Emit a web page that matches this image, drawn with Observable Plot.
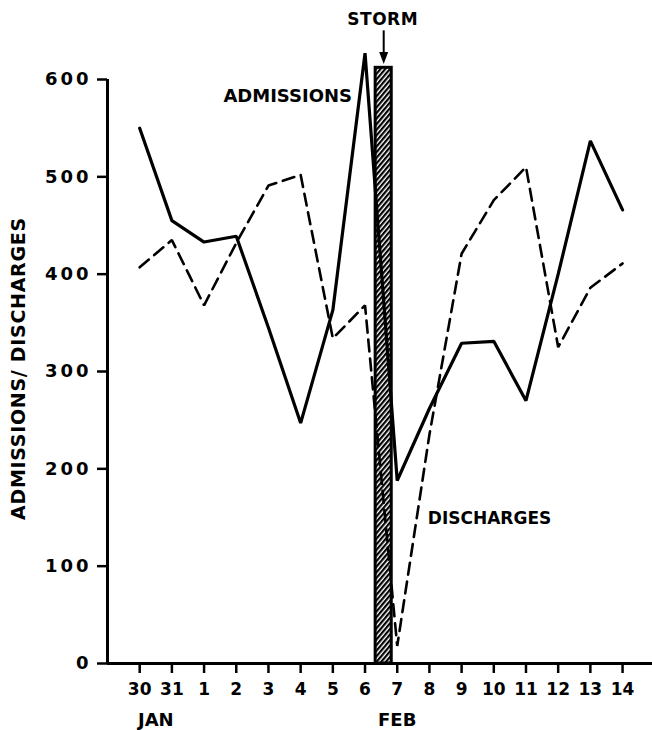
<!DOCTYPE html>
<html><head><meta charset="utf-8">
<script src="https://cdn.jsdelivr.net/npm/d3@7"></script>
<script src="https://cdn.jsdelivr.net/npm/@observablehq/plot@0.6"></script>
<style>
html,body{margin:0;padding:0;background:#fff;}
#chart svg{display:block;}
</style>
</head><body><div id="chart"></div>
<script>
// Days (Jan 30 – Feb 14)
const days = ["30","31","1","2","3","4","5","6","7","8","9","10","11","12","13","14"];
const admissions = [550,455,433,439,345,247,363,627,188,262,329,331,270,400,537,466];
const discharges = [407,435,368,432,491,502,334,368,18,235,421,476,510,325,386,411];
const yTicks = [0,100,200,300,400,500,600];
const seriesNames = ["ADMISSIONS","DISCHARGES"];
const yLabel = "ADMISSIONS/ DISCHARGES";
const monthNames = ["JAN","FEB"];
const monthSpan = [["30","31"],["7","7"]];
const stormLabel = "STORM";
const stormAfter = "6";
const stormHeight = 612;

const xDomain = [-1, 15.93];
const idx = d => days.indexOf(d);
const adm = days.map((d,i)=>({i, v: admissions[i]}));
const dis = days.map((d,i)=>({i, v: discharges[i]}));
const s0 = idx(stormAfter);
const stormRect = [{x1: s0 + 0.33, x2: s0 + 0.83, y1: 0, y2: stormHeight}];
const months = monthNames.map((m,k)=>({m, x: (idx(monthSpan[k][0]) + idx(monthSpan[k][1]))/2}));
const yAxisLine = [{x: xDomain[0], y1: yTicks[0], y2: yTicks[yTicks.length-1]}];

const downTri = {draw(ctx){ ctx.moveTo(-4.5,-6); ctx.lineTo(4.5,-6); ctx.lineTo(0,6); ctx.closePath(); }};

const chart = Plot.plot({
  width: 652, height: 730,
  marginLeft: 107, marginRight: 0, marginTop: 79, marginBottom: 67,
  style: {fontFamily: "DejaVu Sans", background: "#fff", color: "#000", overflow: "visible"},
  x: {type: "linear", domain: xDomain},
  y: {domain: [0, 600]},
  marks: [
    Plot.rect(stormRect, {x1: "x1", x2: "x2", y1: "y1", y2: "y2", fill: "url(#hatch)", stroke: "#000", strokeWidth: 3}),
    Plot.line(dis, {x: "i", y: "v", stroke: "#000", strokeWidth: 2.6, strokeDasharray: "12,7", strokeLinejoin: "miter"}),
    Plot.line(adm, {x: "i", y: "v", stroke: "#000", strokeWidth: 3.2, strokeLinejoin: "miter"}),
    Plot.ruleY([0], {strokeWidth: 3}),
    Plot.ruleX(yAxisLine, {x: "x", y1: "y1", y2: "y2", strokeWidth: 3}),
    Plot.axisY({ticks: yTicks, tickSize: 10, tickPadding: 6, fontSize: 18, fontWeight: "bold", strokeWidth: 2.5, label: null}),
    Plot.axisX({ticks: d3.range(days.length), tickFormat: i => days[i], tickSize: 10, tickPadding: 9, fontSize: 17, fontWeight: "bold", strokeWidth: 2.5, label: null}),
    Plot.text(months, {x: "x", y: -58, text: "m", fontSize: 18, fontWeight: "bold"}),
    Plot.text([seriesNames[0]], {x: 2.6, y: 583, textAnchor: "start", fontSize: 18, fontWeight: "bold"}),
    Plot.text([seriesNames[1]], {x: 8.95, y: 149, textAnchor: "start", fontSize: 17, fontWeight: "bold"}),
    Plot.text([stormLabel], {x: s0 + 0.55, y: 661.5, fontSize: 17, fontWeight: "bold"}),
    Plot.ruleX([s0 + 0.58], {y1: 650, y2: 625, strokeWidth: 2}),
    Plot.dot([s0 + 0.58], {x: d => d, y: 622, symbol: downTri, fill: "#000", stroke: null}),
    Plot.text([yLabel], {x: -3.75, y: 303, rotate: -90, fontSize: 19, fontWeight: "bold"})
  ]
});

// hatch pattern
const svg = chart.tagName.toLowerCase() === "svg" ? chart : chart.querySelector("svg");
const ns = "http://www.w3.org/2000/svg";
const defs = document.createElementNS(ns, "defs");
const pat = document.createElementNS(ns, "pattern");
pat.setAttribute("id", "hatch");
pat.setAttribute("patternUnits", "userSpaceOnUse");
pat.setAttribute("width", "3.6");
pat.setAttribute("height", "3.6");
pat.setAttribute("patternTransform", "rotate(40)");
const bg = document.createElementNS(ns, "rect");
bg.setAttribute("width", "3.6"); bg.setAttribute("height", "3.6"); bg.setAttribute("fill", "#fff");
const st = document.createElementNS(ns, "rect");
st.setAttribute("width", "2.2"); st.setAttribute("height", "3.6"); st.setAttribute("fill", "#000");
pat.appendChild(bg); pat.appendChild(st); defs.appendChild(pat);
svg.insertBefore(defs, svg.firstChild);

svg.querySelectorAll('g[aria-label="y-axis tick label"] text').forEach(t => t.style.letterSpacing = "3px");
svg.querySelectorAll('g[aria-label="text"] text').forEach(t => { if (t.textContent === yLabel) t.style.letterSpacing = "0.7px"; if (t.textContent === stormLabel) t.style.letterSpacing = "0.5px"; });

document.getElementById("chart").appendChild(chart);
</script>
</body></html>
